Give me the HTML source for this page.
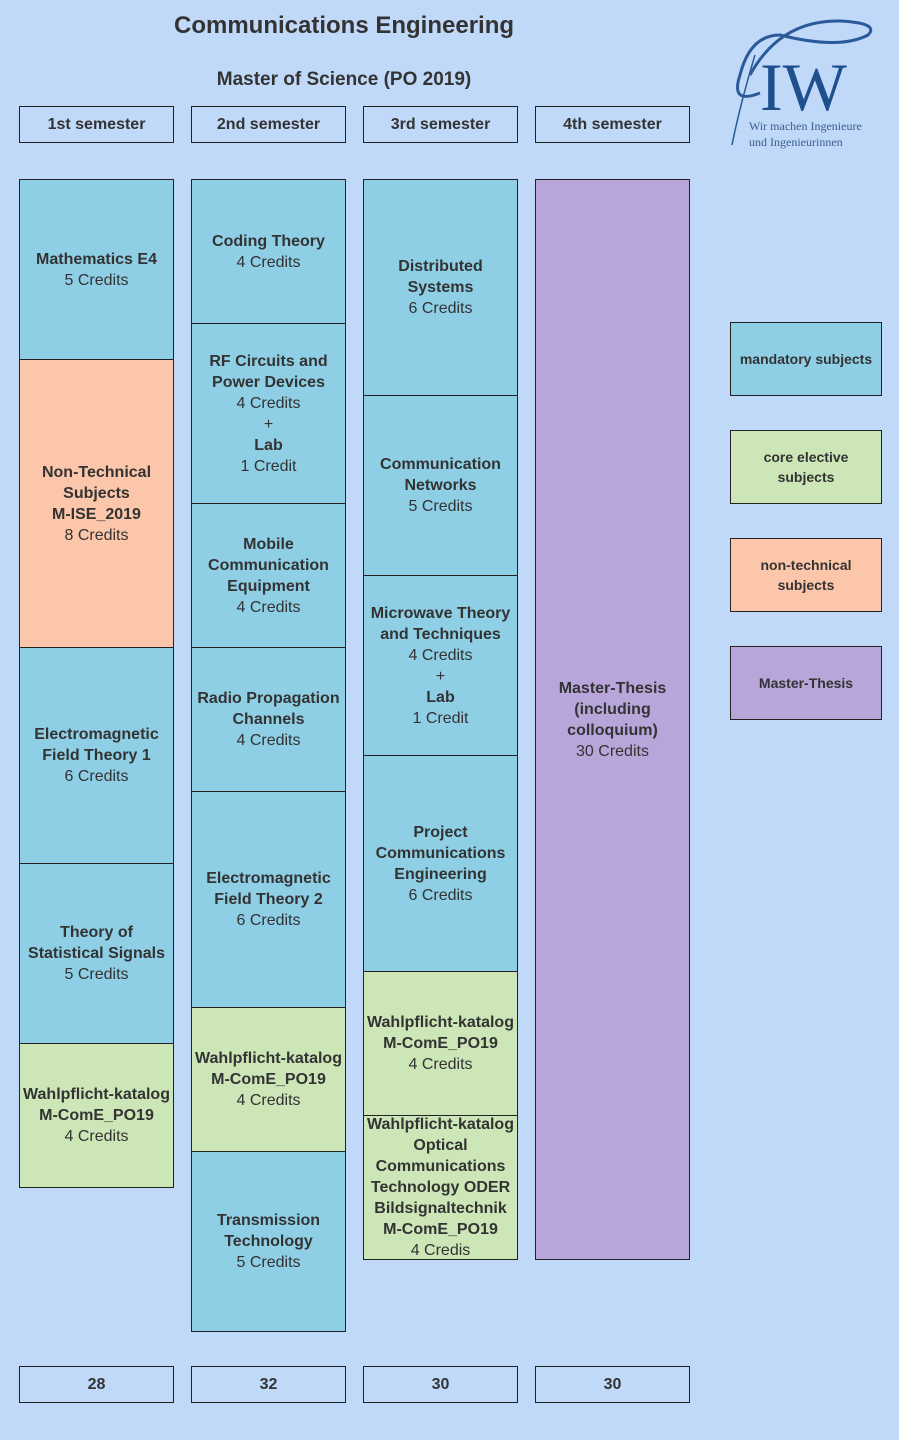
<!DOCTYPE html>
<html><head><meta charset="utf-8"><style>
body{margin:0;width:899px;height:1440px;background:#c1d9f8;font-family:"Liberation Sans",sans-serif;color:#333;position:relative;overflow:hidden}
.b{position:absolute;box-sizing:border-box;border:1px solid #222;display:flex;align-items:center;justify-content:center;text-align:center;font-size:16px;line-height:21px;font-weight:bold}
.b span{font-weight:normal;display:block}
.h{background:transparent}
.m{background:#8ecfe6}.c{background:#cce6b7}.n{background:#fcc6aa}.t{background:#b8a6da}
.l{font-size:14px;line-height:20px}
</style></head><body>
<div style="position:absolute;left:0;top:12px;width:688px;text-align:center;font-weight:bold;font-size:24px">Communications Engineering</div>
<div style="position:absolute;left:0;top:69px;width:688px;text-align:center;font-weight:bold;font-size:19px">Master of Science (PO 2019)</div>
<svg style="position:absolute;left:720px;top:15px" width="160" height="140">
<path d="M30 60 Q60 5 120 6 Q160 8 148 20 Q120 35 60 20 Q30 20 20 60 Q10 90 40 78" fill="none" stroke="#2a5a9a" stroke-width="3"/>
<path d="M35 40 Q20 90 12 130" fill="none" stroke="#2a5a9a" stroke-width="1.5"/>
<text x="40" y="95" font-family="Liberation Serif,serif" font-size="68" fill="#1e4f8f">IW</text>
<text x="29" y="115" font-family="Liberation Serif,serif" font-size="12" fill="#3a5f8f">Wir machen Ingenieure</text>
<text x="29" y="131" font-family="Liberation Serif,serif" font-size="12" fill="#3a5f8f">und Ingenieurinnen</text>
</svg>
<div class="b h" style="left:19px;top:106px;width:155px;height:37px">1st semester</div>
<div class="b h" style="left:191px;top:106px;width:155px;height:37px">2nd semester</div>
<div class="b h" style="left:363px;top:106px;width:155px;height:37px">3rd semester</div>
<div class="b h" style="left:535px;top:106px;width:155px;height:37px">4th semester</div>

<div class="b m" style="left:19px;top:179px;width:155px;height:181px"><div>Mathematics E4<span>5 Credits</span></div></div>
<div class="b n" style="left:19px;top:359px;width:155px;height:289px"><div>Non-Technical<br>Subjects<br>M-ISE_2019<span>8 Credits</span></div></div>
<div class="b m" style="left:19px;top:647px;width:155px;height:217px"><div>Electromagnetic<br>Field Theory 1<span>6 Credits</span></div></div>
<div class="b m" style="left:19px;top:863px;width:155px;height:181px"><div>Theory of<br>Statistical Signals<span>5 Credits</span></div></div>
<div class="b c" style="left:19px;top:1043px;width:155px;height:145px"><div>Wahlpflicht-katalog<br>M-ComE_PO19<span>4 Credits</span></div></div>

<div class="b m" style="left:191px;top:179px;width:155px;height:145px"><div>Coding Theory<span>4 Credits</span></div></div>
<div class="b m" style="left:191px;top:323px;width:155px;height:181px"><div>RF Circuits and<br>Power Devices<span>4 Credits</span><span>+</span>Lab<span>1 Credit</span></div></div>
<div class="b m" style="left:191px;top:503px;width:155px;height:145px"><div>Mobile<br>Communication<br>Equipment<span>4 Credits</span></div></div>
<div class="b m" style="left:191px;top:647px;width:155px;height:145px"><div>Radio Propagation<br>Channels<span>4 Credits</span></div></div>
<div class="b m" style="left:191px;top:791px;width:155px;height:217px"><div>Electromagnetic<br>Field Theory 2<span>6 Credits</span></div></div>
<div class="b c" style="left:191px;top:1007px;width:155px;height:145px"><div>Wahlpflicht-katalog<br>M-ComE_PO19<span>4 Credits</span></div></div>
<div class="b m" style="left:191px;top:1151px;width:155px;height:181px"><div>Transmission<br>Technology<span>5 Credits</span></div></div>

<div class="b m" style="left:363px;top:179px;width:155px;height:217px"><div>Distributed<br>Systems<span>6 Credits</span></div></div>
<div class="b m" style="left:363px;top:395px;width:155px;height:181px"><div>Communication<br>Networks<span>5 Credits</span></div></div>
<div class="b m" style="left:363px;top:575px;width:155px;height:181px"><div>Microwave Theory<br>and Techniques<span>4 Credits</span><span>+</span>Lab<span>1 Credit</span></div></div>
<div class="b m" style="left:363px;top:755px;width:155px;height:217px"><div>Project<br>Communications<br>Engineering<span>6 Credits</span></div></div>
<div class="b c" style="left:363px;top:971px;width:155px;height:145px"><div>Wahlpflicht-katalog<br>M-ComE_PO19<span>4 Credits</span></div></div>
<div class="b c" style="left:363px;top:1115px;width:155px;height:145px"><div>Wahlpflicht-katalog<br>Optical<br>Communications<br>Technology ODER<br>Bildsignaltechnik<br>M-ComE_PO19<span>4 Credis</span></div></div>

<div class="b t" style="left:535px;top:179px;width:155px;height:1081px"><div>Master-Thesis<br>(including<br>colloquium)<span>30 Credits</span></div></div>

<div class="b m l" style="left:730px;top:322px;width:152px;height:74px">mandatory subjects</div>
<div class="b c l" style="left:730px;top:430px;width:152px;height:74px">core elective<br>subjects</div>
<div class="b n l" style="left:730px;top:538px;width:152px;height:74px">non-technical<br>subjects</div>
<div class="b t l" style="left:730px;top:646px;width:152px;height:74px">Master-Thesis</div>

<div class="b h" style="left:19px;top:1366px;width:155px;height:37px">28</div>
<div class="b h" style="left:191px;top:1366px;width:155px;height:37px">32</div>
<div class="b h" style="left:363px;top:1366px;width:155px;height:37px">30</div>
<div class="b h" style="left:535px;top:1366px;width:155px;height:37px">30</div>
</body></html>
